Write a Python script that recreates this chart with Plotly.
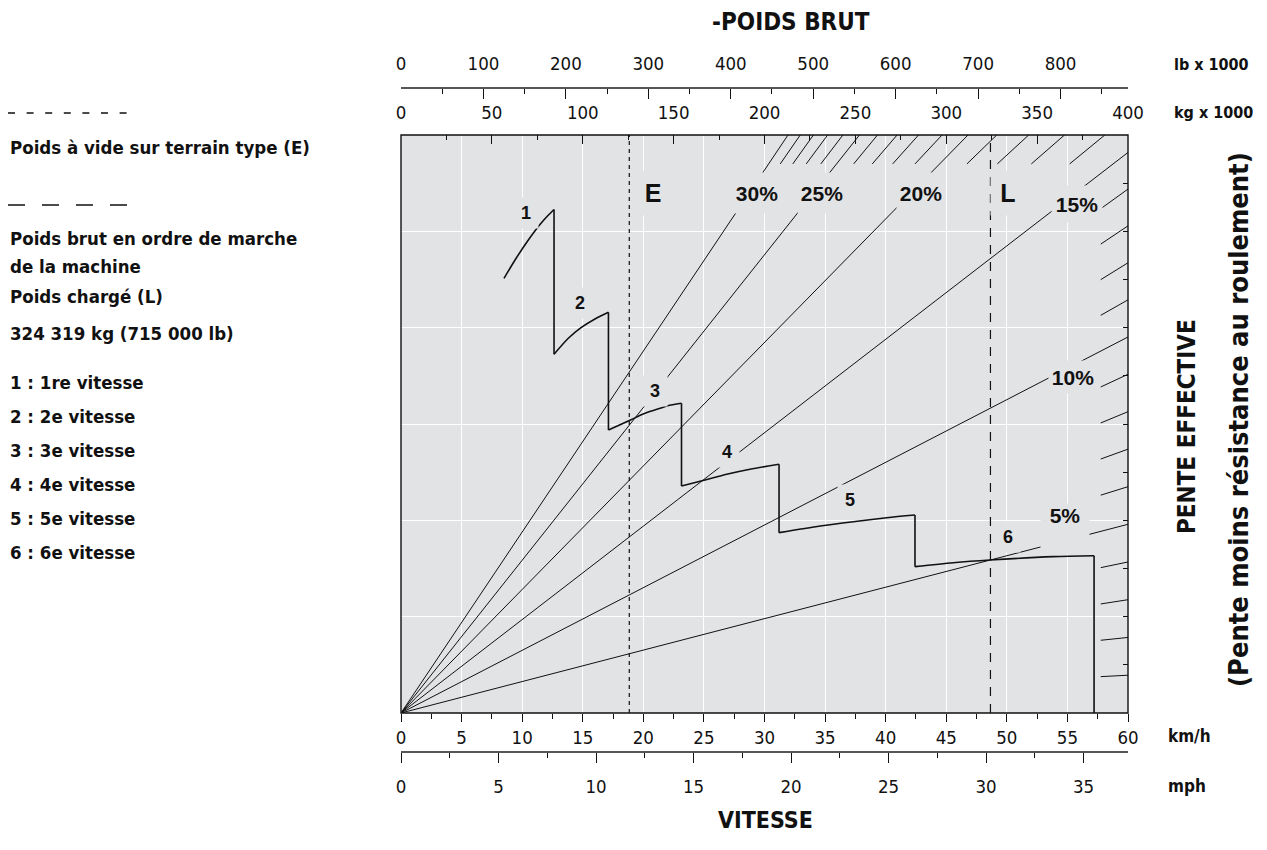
import math
import plotly.graph_objects as go

# ---------------------------------------------------------------- data ----
G = 9.80665                      # kN per tonne-force
LB_PER_T = 1 / 0.45359237        # lb x 1000 per kg x 1000
MPH_PER_KMH = 1 / 1.609344

speed_max_kmh = 60
weight_max_t = 400               # kg x 1000
rimpull_max_kn = 600

# Effective grade lines (%)
grades_main = [30, 25, 20, 15, 10, 5]
grades_all = list(range(1, 31))

# Reference weights (kg x 1000)
weight_empty_t = 125.6           # E
weight_loaded_t = 324.319        # L  (324 319 kg / 715 000 lb)

# Rimpull curves by gear: speed (km/h) and rimpull (kN)
gear1_kmh = [8.50, 9.49, 10.48, 11.47, 12.13, 12.63]
gear1_kn = [451.2, 471.8, 490.5, 507.1, 516.4, 522.7]
gear2_kmh = [12.63, 13.81, 14.86, 16.01, 17.12]
gear2_kn = [372.4, 389.0, 400.0, 409.0, 416.0]
gear3_kmh = [17.12, 18.76, 20.14, 21.52, 22.01, 23.15]
gear3_kn = [293.8, 303.1, 311.1, 316.9, 319.0, 321.5]
gear4_kmh = [23.15, 25.09, 26.88, 28.80, 31.20]
gear4_kn = [235.6, 241.9, 247.8, 253.0, 258.2]
gear5_kmh = [31.20, 34.60, 37.33, 40.08, 42.42]
gear5_kn = [187.2, 194.1, 198.6, 202.7, 205.5]
gear6_kmh = [42.42, 45.58, 48.61, 53.83, 57.20]
gear6_kn = [151.9, 156.0, 158.8, 162.3, 163.3]

gear_names = ["1", "2", "3", "4", "5", "6"]

# --------------------------------------------------------------- style ----
W, H = 1267, 850
PX_L, PX_R, PX_T, PX_B = 401, 1128, 135, 713
PLOT_BG = "#e2e3e5"
INK = "#111111"
NARROW = "Liberation Sans Narrow, Arial Narrow, DejaVu Sans Condensed, sans-serif"
WIDE = "Liberation Sans, Arial, Helvetica, sans-serif"
HATCH_RIM_KN = 570        # top hatch marks start at this rimpull
HATCH_W_T = 385           # right hatch marks start at this weight


def px(xp):
    return xp / W


def py(yp):
    return 1 - yp / H


def grade_factor(g):
    return G * math.sin(math.atan(g / 100.0))


fig = go.Figure()

# grade lines radiating from the origin (weight axis vs rimpull)
for g in grades_main:
    k = grade_factor(g)
    w_end = min(weight_max_t, rimpull_max_kn / k)
    fig.add_trace(go.Scatter(x=[0, w_end], y=[0, w_end * k], xaxis="x3", yaxis="y",
                             mode="lines", line=dict(color=INK, width=1),
                             hoverinfo="skip", showlegend=False))

# 1 % grade hatch marks along the top and right borders
hx, hy = [], []
for g in grades_all:
    if g in grades_main:
        continue
    k = grade_factor(g)
    w_top = rimpull_max_kn / k
    if w_top <= weight_max_t:
        w0, w1 = HATCH_RIM_KN / k, w_top
    else:
        w0, w1 = HATCH_W_T, weight_max_t
    hx += [w0, w1, None]
    hy += [w0 * k, w1 * k, None]
fig.add_trace(go.Scatter(x=hx, y=hy, xaxis="x3", yaxis="y", mode="lines",
                         line=dict(color=INK, width=1), hoverinfo="skip", showlegend=False))

# empty (E) and loaded (L) weight references
fig.add_trace(go.Scatter(x=[weight_empty_t, weight_empty_t], y=[0, rimpull_max_kn],
                         xaxis="x3", yaxis="y", mode="lines",
                         line=dict(color=INK, width=1.2, dash="4px,4px"),
                         hoverinfo="skip", showlegend=False))
fig.add_trace(go.Scatter(x=[weight_loaded_t, weight_loaded_t], y=[0, rimpull_max_kn],
                         xaxis="x3", yaxis="y", mode="lines",
                         line=dict(color=INK, width=1.2, dash="9px,8px"),
                         hoverinfo="skip", showlegend=False))

# rimpull curves and the shift drops between gears
gears_kmh = [gear1_kmh, gear2_kmh, gear3_kmh, gear4_kmh, gear5_kmh, gear6_kmh]
gears_kn = [gear1_kn, gear2_kn, gear3_kn, gear4_kn, gear5_kn, gear6_kn]
for i, (sx, sy) in enumerate(zip(gears_kmh, gears_kn)):
    fig.add_trace(go.Scatter(x=sx, y=sy, mode="lines", name=gear_names[i],
                             line=dict(color=INK, width=1.6, shape="spline", smoothing=0.8),
                             hoverinfo="skip", showlegend=False))
    if i + 1 < len(gears_kmh):
        dx = [sx[-1], gears_kmh[i + 1][0]]
        dy = [sy[-1], gears_kn[i + 1][0]]
    else:
        dx = [sx[-1], sx[-1]]
        dy = [sy[-1], 0]
    fig.add_trace(go.Scatter(x=dx, y=dy, mode="lines",
                             line=dict(color=INK, width=1.6),
                             hoverinfo="skip", showlegend=False))

# invisible traces so the secondary scales are drawn
fig.add_trace(go.Scatter(x=[0], y=[0], xaxis="x4", yaxis="y", mode="markers",
                         marker=dict(opacity=0), hoverinfo="skip", showlegend=False))
fig.add_trace(go.Scatter(x=[0], y=[0], xaxis="x5", yaxis="y", mode="markers",
                         marker=dict(opacity=0), hoverinfo="skip", showlegend=False))
fig.add_trace(go.Scatter(x=[0], y=[0], xaxis="x", yaxis="y2", mode="markers",
                         marker=dict(opacity=0), hoverinfo="skip", showlegend=False))

x_dom = [px(PX_L), px(PX_R)]
y_dom = [py(PX_B), py(PX_T)]
tick_font = dict(family=NARROW, size=18.5, color=INK)
axis_common = dict(zeroline=False, fixedrange=True, tickcolor=INK, tickwidth=1)

fig.update_layout(
    width=W, height=H, autosize=False,
    margin=dict(l=0, r=0, t=0, b=0, autoexpand=False),
    paper_bgcolor="white", plot_bgcolor=PLOT_BG,
    showlegend=False,
    xaxis=dict(domain=x_dom, range=[0, speed_max_kmh], anchor="y", side="bottom",
               tick0=0, dtick=5, ticks="outside", ticklen=8,
               showgrid=True, gridcolor="white", gridwidth=1.3, showline=False,
               tickfont=tick_font, ticklabelstandoff=0,
               minor=dict(dtick=2.5, ticks="outside", ticklen=5, tickcolor=INK, showgrid=False),
               **axis_common),
    yaxis=dict(domain=y_dom, range=[0, rimpull_max_kn], anchor="x", dtick=100,
               showgrid=True, gridcolor="white", gridwidth=1.3,
               showticklabels=False, ticks="", showline=False, **axis_common),
    yaxis2=dict(overlaying="y", side="right", anchor="x", range=[0, rimpull_max_kn],
                dtick=50, ticks="inside", ticklen=5, showticklabels=False,
                showgrid=False, showline=False, **axis_common),
    xaxis3=dict(overlaying="x", side="top", anchor="y", range=[0, weight_max_t],
                tick0=0, dtick=50, ticks="inside", ticklen=9,
                minor=dict(dtick=25, ticks="inside", ticklen=5, tickcolor=INK),
                showgrid=False, showline=False, tickfont=tick_font, ticklabelstandoff=11,
                **axis_common),
    xaxis4=dict(overlaying="x", side="top", anchor="free", position=py(88),
                range=[0, weight_max_t * LB_PER_T], tick0=0, dtick=100,
                ticks="inside", ticklen=10,
                minor=dict(dtick=50, ticks="inside", ticklen=5, tickcolor=INK),
                showgrid=False, showline=True, linecolor="#555555", linewidth=1.5,
                tickfont=tick_font, ticklabelstandoff=10, **axis_common),
    xaxis5=dict(overlaying="x", side="bottom", anchor="free", position=py(752),
                range=[0, speed_max_kmh * MPH_PER_KMH], tick0=0, dtick=5,
                ticks="outside", ticklen=10,
                minor=dict(dtick=2.5, ticks="outside", ticklen=5, tickcolor=INK),
                showgrid=False, showline=True, linecolor="#555555", linewidth=1.5,
                tickfont=tick_font, ticklabelstandoff=8, **axis_common),
)

# plot frame
fig.add_shape(type="rect", xref="paper", yref="paper",
              x0=x_dom[0], x1=x_dom[1], y0=y_dom[0], y1=y_dom[1],
              line=dict(color=INK, width=1.4), layer="above")

ann = []

# grade labels (weight / rimpull placement); the boxes open the lines beneath
# (x, y, box width, box height, box anchored at top?)
grade_label_pos = {
    30: (195.9, 539.8, 48, 40, False), 25: (231.6, 539.8, 48, 40, False),
    20: (286.1, 539.8, 48, 40, False), 15: (371.9, 528.4, 50, 36, False),
    10: (369.7, 348.8, 48, 32, False), 5: (365.3, 218.0, 48, 50, True),
}
for g in grades_main:
    wx, ry, bw, bh, top = grade_label_pos[g]
    ann.append(dict(x=wx, y=ry, xref="x3", yref="y", text=f"{g}%", showarrow=False,
                    yanchor="top" if top else "middle", valign="top" if top else "middle",
                    font=dict(family=WIDE, size=21, color=INK, weight="bold"),
                    bgcolor=PLOT_BG, width=bw, height=bh, borderpad=0))

# E and L markers
for txt, wx in (("E", 138.7), ("L", 334.0)):
    ann.append(dict(x=wx, y=539.8, xref="x3", yref="y", text=txt, showarrow=False,
                    font=dict(family=WIDE, size=25, color=INK, weight="bold"),
                    bgcolor=PLOT_BG, width=34, height=44, borderpad=0))

# gear numbers (speed / rimpull placement)
gear_label_pos = [(10.32, 519.0), (14.77, 425.3), (20.96, 334.3),
                  (26.90, 271.0), (37.06, 221.1), (50.12, 183.0)]
for name, (sx, ry) in zip(gear_names, gear_label_pos):
    ann.append(dict(x=sx, y=ry, xref="x", yref="y", text=name, showarrow=False,
                    font=dict(family=WIDE, size=18, color=INK, weight="bold"),
                    bgcolor=PLOT_BG, width=24, height=30, borderpad=0))


# titles and unit labels
def paper_text(x, y, text, size, xanchor="center", family=NARROW, angle=0, weight="bold"):
    ann.append(dict(x=px(x), y=py(y), xref="paper", yref="paper", text=text,
                    showarrow=False, xanchor=xanchor, yanchor="middle", textangle=angle,
                    font=dict(family=family, size=size, color=INK, weight=weight)))


paper_text(791, 22, "-POIDS BRUT", 24)
paper_text(765, 820, "VITESSE", 23)
paper_text(1172, 64, "lb x 1000", 16, xanchor="left")
paper_text(1172, 112, "kg x 1000", 16, xanchor="left")
paper_text(1166, 736, "km/h", 17, xanchor="left")
paper_text(1166, 786, "mph", 17, xanchor="left")
paper_text(1187, 427, "PENTE EFFECTIVE", 24, angle=-90)
paper_text(1238, 420, "(Pente moins résistance au roulement)", 27, angle=-90)

# key on the left
key_lines = [
    (147, "Poids à vide sur terrain type (E)"),
    (238, "Poids brut en ordre de marche"),
    (266, "de la machine"),
    (297, "Poids chargé (L)"),
    (333, "324 319 kg (715 000 lb)"),
    (382, "1 : 1re vitesse"),
    (416, "2 : 2e vitesse"),
    (450, "3 : 3e vitesse"),
    (484, "4 : 4e vitesse"),
    (518, "5 : 5e vitesse"),
    (552, "6 : 6e vitesse"),
]
for yy, txt in key_lines:
    paper_text(8, yy, txt, 18.5, xanchor="left")

fig.add_shape(type="line", xref="paper", yref="paper", x0=px(8), x1=px(127),
              y0=py(113), y1=py(113), line=dict(color=INK, width=1.6, dash="7px,11.6px"))
fig.add_shape(type="line", xref="paper", yref="paper", x0=px(8), x1=px(127),
              y0=py(205), y1=py(205), line=dict(color=INK, width=1.6, dash="17px,17px"))

fig.update_layout(annotations=ann)
fig.write_html(
    "out.html",
    config={"responsive": False, "displayModeBar": False},
    post_script="document.body.style.margin='0';document.body.style.overflow='hidden';",
)
